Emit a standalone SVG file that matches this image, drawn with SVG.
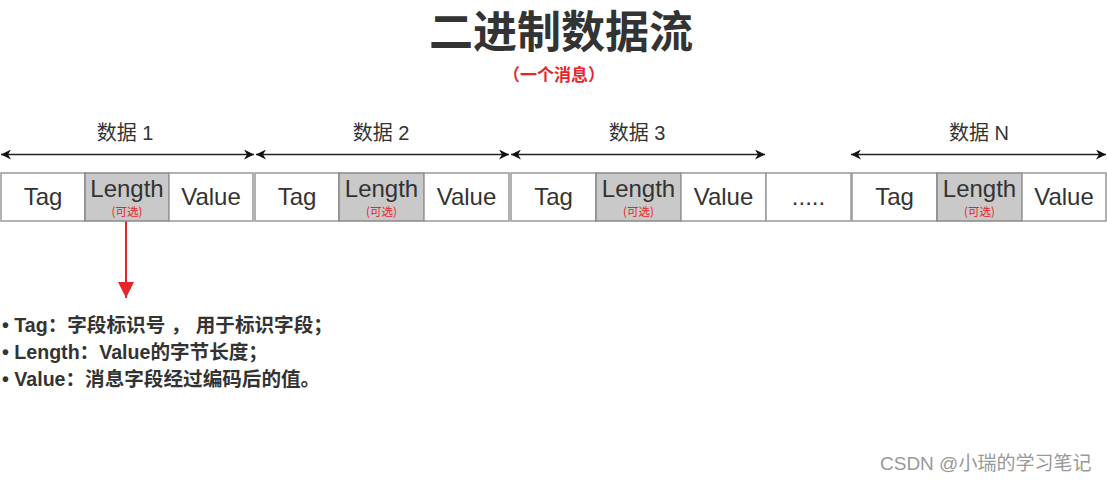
<svg xmlns="http://www.w3.org/2000/svg" width="1107" height="482" viewBox="0 0 1107 482">
<style>
text{font-family:"Liberation Sans","Noto Sans CJK SC",sans-serif;fill:#333}
.cell{fill:#fff;stroke:#999;stroke-width:1.5}
.len{fill:#c9c9c9;stroke:#888;stroke-width:1.5}
.ct{font-size:24px;text-anchor:middle}
.opt{font-family:"Noto Sans CJK SC",sans-serif;font-size:11.5px;fill:#e8242a;text-anchor:middle}
.lab{font-size:20px;text-anchor:middle}
.bl{font-size:19.6px;font-weight:bold}
.span{stroke:#222;stroke-width:1.5;fill:none;marker-start:url(#ah);marker-end:url(#ah)}
</style>
<defs>
<marker id="ah" viewBox="0 0 10 10" refX="10" refY="5" markerWidth="10" markerHeight="10" markerUnits="userSpaceOnUse" orient="auto-start-reverse"><path d="M0,0 L10,5 L0,10 L3,5 z" fill="#111"/></marker>
<marker id="rh" viewBox="0 0 10 10" refX="10" refY="5" markerWidth="16" markerHeight="16" markerUnits="userSpaceOnUse" orient="auto"><path d="M0,0 L10,5 L0,10 z" fill="#e8242a"/></marker>
</defs>
<text x="561" y="48" font-size="44" font-weight="bold" text-anchor="middle" style="fill:#333">二进制数据流</text>
<text x="554" y="81" font-size="17" font-weight="bold" text-anchor="middle" style="fill:#e8242a;font-family:'Noto Sans CJK SC',sans-serif">（一个消息）</text>
<g id="connectors">
<line class="span" x1="1" y1="154.5" x2="254" y2="154.5"/>
<line class="span" x1="256" y1="154.5" x2="509" y2="154.5"/>
<line class="span" x1="511" y1="154.5" x2="765" y2="154.5"/>
<line class="span" x1="851" y1="154.5" x2="1106" y2="154.5"/>
<line x1="126" y1="221" x2="126" y2="298" stroke="#e8242a" stroke-width="2" marker-end="url(#rh)"/>
</g>
<g id="group1">
<text class="lab" x="125" y="140">数据 1</text>
<rect class="cell" x="1" y="173" width="84" height="48"/>
<rect class="len" x="85" y="173" width="84" height="48"/>
<rect class="cell" x="169" y="173" width="84" height="48"/>
<text class="ct" x="43" y="205">Tag</text>
<text class="ct" x="127" y="197">Length</text>
<text class="opt" x="127" y="216">(可选)</text>
<text class="ct" x="211" y="205">Value</text>
</g>
<g id="group2">
<text class="lab" x="381" y="140">数据 2</text>
<rect class="cell" x="255" y="173" width="84" height="48"/>
<rect class="len" x="339" y="173" width="85" height="48"/>
<rect class="cell" x="424" y="173" width="85" height="48"/>
<text class="ct" x="297" y="205">Tag</text>
<text class="ct" x="381.5" y="197">Length</text>
<text class="opt" x="381.5" y="216">(可选)</text>
<text class="ct" x="466.5" y="205">Value</text>
</g>
<g id="group3">
<text class="lab" x="637" y="140">数据 3</text>
<rect class="cell" x="511" y="173" width="85" height="48"/>
<rect class="len" x="596" y="173" width="85" height="48"/>
<rect class="cell" x="681" y="173" width="85" height="48"/>
<text class="ct" x="553.5" y="205">Tag</text>
<text class="ct" x="638.5" y="197">Length</text>
<text class="opt" x="638.5" y="216">(可选)</text>
<text class="ct" x="723.5" y="205">Value</text>
</g>
<g id="ellipsis">
<rect class="cell" x="766" y="173" width="85" height="48"/>
<text class="ct" x="808.5" y="205">.....</text>
</g>
<g id="groupN">
<text class="lab" x="979" y="140">数据 N</text>
<rect class="cell" x="852" y="173" width="85" height="48"/>
<rect class="len" x="937" y="173" width="85" height="48"/>
<rect class="cell" x="1022" y="173" width="84" height="48"/>
<text class="ct" x="894.5" y="205">Tag</text>
<text class="ct" x="979.5" y="197">Length</text>
<text class="opt" x="979.5" y="216">(可选)</text>
<text class="ct" x="1064" y="205">Value</text>
</g>
<g id="legend">
<text class="bl" x="2" y="332">• Tag：字段标识号 ， 用于标识字段；</text>
<text class="bl" x="2" y="359">• Length：Value的字节长度；</text>
<text class="bl" x="2" y="386">• Value：消息字段经过编码后的值。</text>
</g>
<text x="880" y="470" font-size="19" style="fill:#999">CSDN @小瑞的学习笔记</text>
</svg>
